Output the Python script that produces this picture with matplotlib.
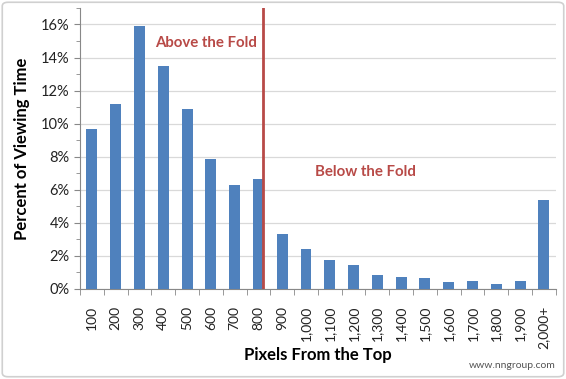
import matplotlib
matplotlib.use("Agg")
import matplotlib.pyplot as plt
from matplotlib.ticker import MultipleLocator, FuncFormatter
from matplotlib.patches import FancyBboxPatch

plt.rcParams['font.family'] = ['Lato', 'DejaVu Sans']

categories = ["100", "200", "300", "400", "500", "600", "700", "800", "900",
              "1,000", "1,100", "1,200", "1,300", "1,400", "1,500", "1,600",
              "1,700", "1,800", "1,900", "2,000+"]
values = [9.66, 11.17, 15.88, 13.5, 10.9, 7.85, 6.28, 6.64, 3.3, 2.4, 1.75,
          1.45, 0.85, 0.72, 0.66, 0.42, 0.48, 0.3, 0.48, 5.37]
fold_position = 7.2

bar_color = "#4f81bd"
red = "#b84a47"

fig = plt.figure(figsize=(5.66, 3.79), dpi=100)
fig.patch.set_facecolor("white")
border = FancyBboxPatch((0.004, 0.006), 0.992, 0.988, boxstyle="round,pad=0,rounding_size=0.01",
                        transform=fig.transFigure, fill=False, edgecolor="#d0d0d0", linewidth=1.2)
fig.patches.append(border)

ax = fig.add_axes([0.1413, 0.2375, 0.8407, 0.7415])
x = list(range(len(categories)))
ax.bar(x, values, width=0.46, color=bar_color, zorder=3)
ax.set_xlim(-0.5, len(categories) - 0.5)
ax.set_ylim(0, 17)

ax.yaxis.set_major_locator(MultipleLocator(2))
ax.yaxis.set_minor_locator(MultipleLocator(1))
ax.yaxis.set_major_formatter(FuncFormatter(lambda v, p: f"{int(v)}%" if v <= 16 else ""))
ax.grid(axis='y', which='major', color="#d9d9d9", linewidth=0.9, zorder=0)

ax.set_xticks(x)
ax.set_xticklabels(categories, rotation=90, fontsize=10, color="#222222")
ax.set_xticks([i - 0.5 for i in range(len(categories) + 1)], minor=True)
ax.tick_params(axis='x', which='major', length=0, pad=12)
ax.tick_params(axis='x', which='minor', length=4, color="#888888")
ax.tick_params(axis='y', which='major', length=4, color="#888888", labelsize=10.5, labelcolor="#222222")
ax.tick_params(axis='y', which='minor', length=3, color="#888888")

for s in ['top', 'right']:
    ax.spines[s].set_visible(False)
for s in ['left', 'bottom']:
    ax.spines[s].set_color("#888888")

ax.axvline(fold_position, color=red, linewidth=2, zorder=4)
fig.text(155 / 566, 1 - 43 / 379, "Above the Fold", color=red,
         fontsize=10.8, fontweight='bold', va='center')
fig.text(315 / 566, 1 - 172 / 379, "Below the Fold", color=red, fontsize=10.8,
         fontweight='bold', va='center')

ax.set_ylabel("Percent of Viewing Time", fontsize=12, fontweight='bold', labelpad=8)
fig.text(318 / 566, 1 - 355 / 379, "Pixels From the Top", fontsize=12,
         fontweight='bold', ha='center', va='center')
fig.text(556 / 566, 1 - 366 / 379, "www.nngroup.com", fontsize=7.5,
         color="#555555", ha='right', va='center')

fig.savefig("out.png", dpi=100, facecolor="white")
